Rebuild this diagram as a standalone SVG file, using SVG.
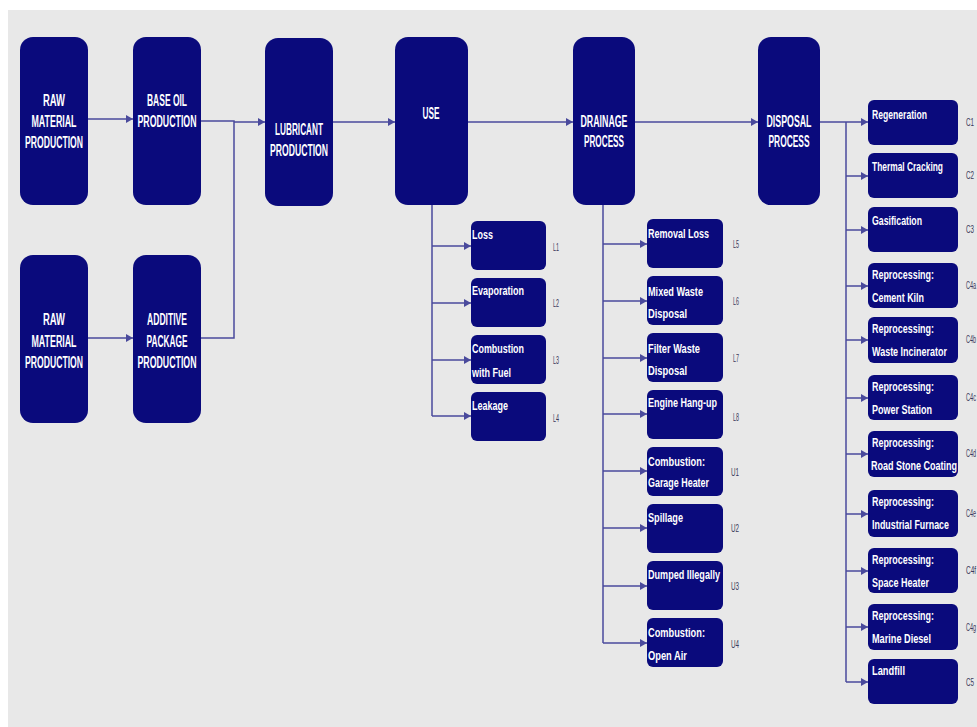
<svg xmlns="http://www.w3.org/2000/svg" width="977" height="727" viewBox="0 0 977 727">
<style>
.big{fill:#0a0a7c;}
.sm{fill:#0a0a7c;}
.t{font-family:"Liberation Sans Narrow","Liberation Sans","DejaVu Sans Condensed",sans-serif;fill:#ffffff;}
.tb{font-size:16px;font-weight:bold;text-anchor:middle;}
.ts{font-size:13.5px;font-weight:bold;}
.lab{font-family:"Liberation Sans Narrow","Liberation Sans",sans-serif;font-size:11px;fill:#3a3a5a;}
.ln{fill:none;stroke:#4a4a9c;stroke-width:1.5;}
</style>
<defs>
<marker id="ar" markerUnits="userSpaceOnUse" markerWidth="8" markerHeight="10" refX="7" refY="5" orient="auto">
<path d="M0,1 L7,5 L0,9 Z" fill="#4a4a9c"/>
</marker>
</defs>
<rect x="0" y="0" width="977" height="727" fill="#ffffff"/>
<rect x="8" y="10" width="969" height="717" fill="#e8e8e8"/>

<g id="connectors">
<path class="ln" d="M88,119 H133" marker-end="url(#ar)"/>
<path class="ln" d="M88,338 H133" marker-end="url(#ar)"/>
<path class="ln" d="M201,121 H234 V338 H201"/>
<path class="ln" d="M234,122 H265" marker-end="url(#ar)"/>
<path class="ln" d="M333,122 H395" marker-end="url(#ar)"/>
<path class="ln" d="M468,122 H573" marker-end="url(#ar)"/>
<path class="ln" d="M635,122 H758" marker-end="url(#ar)"/>
<path class="ln" d="M820,122 H868" marker-end="url(#ar)"/>
<path class="ln" d="M432,205 V416"/>
<path class="ln" d="M432,246 H471" marker-end="url(#ar)"/>
<path class="ln" d="M432,303 H471" marker-end="url(#ar)"/>
<path class="ln" d="M432,360 H471" marker-end="url(#ar)"/>
<path class="ln" d="M432,416 H471" marker-end="url(#ar)"/>
<path class="ln" d="M603,205 V643"/>
<path class="ln" d="M603,244 H647" marker-end="url(#ar)"/>
<path class="ln" d="M603,301 H647" marker-end="url(#ar)"/>
<path class="ln" d="M603,358 H647" marker-end="url(#ar)"/>
<path class="ln" d="M603,414 H647" marker-end="url(#ar)"/>
<path class="ln" d="M603,471 H647" marker-end="url(#ar)"/>
<path class="ln" d="M603,528 H647" marker-end="url(#ar)"/>
<path class="ln" d="M603,586 H647" marker-end="url(#ar)"/>
<path class="ln" d="M603,643 H647" marker-end="url(#ar)"/>
<path class="ln" d="M846,122 V682"/>
<path class="ln" d="M846,176 H868" marker-end="url(#ar)"/>
<path class="ln" d="M846,230 H868" marker-end="url(#ar)"/>
<path class="ln" d="M846,286 H868" marker-end="url(#ar)"/>
<path class="ln" d="M846,340 H868" marker-end="url(#ar)"/>
<path class="ln" d="M846,398 H868" marker-end="url(#ar)"/>
<path class="ln" d="M846,454 H868" marker-end="url(#ar)"/>
<path class="ln" d="M846,514 H868" marker-end="url(#ar)"/>
<path class="ln" d="M846,571 H868" marker-end="url(#ar)"/>
<path class="ln" d="M846,627 H868" marker-end="url(#ar)"/>
<path class="ln" d="M846,682 H868" marker-end="url(#ar)"/>
</g>

<g id="raw1"><rect class="big" x="20" y="37" width="68" height="168" rx="13"/>
<text class="t tb" x="54" y="106" textLength="22" lengthAdjust="spacingAndGlyphs">RAW</text>
<text class="t tb" x="54" y="127" textLength="45" lengthAdjust="spacingAndGlyphs">MATERIAL</text>
<text class="t tb" x="54" y="148" textLength="58" lengthAdjust="spacingAndGlyphs">PRODUCTION</text></g>

<g id="baseoil"><rect class="big" x="133" y="37" width="68" height="168" rx="13"/>
<text class="t tb" x="167" y="106" textLength="40" lengthAdjust="spacingAndGlyphs">BASE OIL</text>
<text class="t tb" x="167" y="127" textLength="59" lengthAdjust="spacingAndGlyphs">PRODUCTION</text></g>

<g id="lubricant"><rect class="big" x="265" y="38" width="68" height="168" rx="13"/>
<text class="t tb" x="299" y="135" textLength="48" lengthAdjust="spacingAndGlyphs">LUBRICANT</text>
<text class="t tb" x="299" y="156" textLength="58" lengthAdjust="spacingAndGlyphs">PRODUCTION</text></g>

<g id="raw2"><rect class="big" x="20" y="255" width="68" height="168" rx="13"/>
<text class="t tb" x="54" y="325" textLength="22" lengthAdjust="spacingAndGlyphs">RAW</text>
<text class="t tb" x="54" y="347" textLength="45" lengthAdjust="spacingAndGlyphs">MATERIAL</text>
<text class="t tb" x="54" y="368" textLength="58" lengthAdjust="spacingAndGlyphs">PRODUCTION</text></g>

<g id="additive"><rect class="big" x="133" y="255" width="68" height="168" rx="13"/>
<text class="t tb" x="167" y="325" textLength="40" lengthAdjust="spacingAndGlyphs">ADDITIVE</text>
<text class="t tb" x="167" y="347" textLength="41" lengthAdjust="spacingAndGlyphs">PACKAGE</text>
<text class="t tb" x="167" y="368" textLength="59" lengthAdjust="spacingAndGlyphs">PRODUCTION</text></g>

<g id="use"><rect class="big" x="395" y="37" width="73" height="168" rx="13"/>
<text class="t tb" x="431" y="119" textLength="17" lengthAdjust="spacingAndGlyphs">USE</text></g>

<g id="drainage"><rect class="big" x="573" y="37" width="62" height="168" rx="13"/>
<text class="t tb" x="604" y="127" textLength="47" lengthAdjust="spacingAndGlyphs">DRAINAGE</text>
<text class="t tb" x="604" y="147" textLength="40" lengthAdjust="spacingAndGlyphs">PROCESS</text></g>

<g id="disposal"><rect class="big" x="758" y="37" width="62" height="168" rx="13"/>
<text class="t tb" x="789" y="127" textLength="45" lengthAdjust="spacingAndGlyphs">DISPOSAL</text>
<text class="t tb" x="789" y="147" textLength="41" lengthAdjust="spacingAndGlyphs">PROCESS</text></g>

<g id="loss"><rect class="sm" x="471" y="221" width="75" height="49" rx="6"/>
<text class="t ts" x="472" y="239" textLength="21" lengthAdjust="spacingAndGlyphs">Loss</text>
<text class="lab" x="553" y="251" textLength="6" lengthAdjust="spacingAndGlyphs">L1</text></g>
<g id="evaporation"><rect class="sm" x="471" y="278" width="75" height="49" rx="6"/>
<text class="t ts" x="472" y="295" textLength="52" lengthAdjust="spacingAndGlyphs">Evaporation</text>
<text class="lab" x="553" y="307" textLength="6" lengthAdjust="spacingAndGlyphs">L2</text></g>
<g id="combfuel"><rect class="sm" x="471" y="335" width="75" height="49" rx="6"/>
<text class="t ts" x="472" y="353" textLength="52" lengthAdjust="spacingAndGlyphs">Combustion</text>
<text class="t ts" x="472" y="377" textLength="39" lengthAdjust="spacingAndGlyphs">with Fuel</text>
<text class="lab" x="553" y="364" textLength="6" lengthAdjust="spacingAndGlyphs">L3</text></g>
<g id="leakage"><rect class="sm" x="471" y="392" width="75" height="49" rx="6"/>
<text class="t ts" x="472" y="410" textLength="36" lengthAdjust="spacingAndGlyphs">Leakage</text>
<text class="lab" x="553" y="422" textLength="6" lengthAdjust="spacingAndGlyphs">L4</text></g>

<g id="removal"><rect class="sm" x="647" y="219" width="76" height="49" rx="6"/>
<text class="t ts" x="648" y="238" textLength="61" lengthAdjust="spacingAndGlyphs">Removal Loss</text>
<text class="lab" x="733" y="248" textLength="6" lengthAdjust="spacingAndGlyphs">L5</text></g>
<g id="mixedwaste"><rect class="sm" x="647" y="276" width="76" height="49" rx="6"/>
<text class="t ts" x="648" y="296" textLength="55" lengthAdjust="spacingAndGlyphs">Mixed Waste</text>
<text class="t ts" x="648" y="318" textLength="39" lengthAdjust="spacingAndGlyphs">Disposal</text>
<text class="lab" x="733" y="305" textLength="6" lengthAdjust="spacingAndGlyphs">L6</text></g>
<g id="filterwaste"><rect class="sm" x="647" y="333" width="76" height="49" rx="6"/>
<text class="t ts" x="648" y="353" textLength="52" lengthAdjust="spacingAndGlyphs">Filter Waste</text>
<text class="t ts" x="648" y="375" textLength="39" lengthAdjust="spacingAndGlyphs">Disposal</text>
<text class="lab" x="733" y="362" textLength="6" lengthAdjust="spacingAndGlyphs">L7</text></g>
<g id="hangup"><rect class="sm" x="647" y="390" width="76" height="49" rx="6"/>
<text class="t ts" x="648" y="407" textLength="69" lengthAdjust="spacingAndGlyphs">Engine Hang-up</text>
<text class="lab" x="733" y="421" textLength="6" lengthAdjust="spacingAndGlyphs">L8</text></g>
<g id="garage"><rect class="sm" x="647" y="447" width="76" height="49" rx="6"/>
<text class="t ts" x="648" y="466" textLength="57" lengthAdjust="spacingAndGlyphs">Combustion:</text>
<text class="t ts" x="648" y="487" textLength="61" lengthAdjust="spacingAndGlyphs">Garage Heater</text>
<text class="lab" x="731" y="476" textLength="8" lengthAdjust="spacingAndGlyphs">U1</text></g>
<g id="spillage"><rect class="sm" x="647" y="504" width="76" height="49" rx="6"/>
<text class="t ts" x="648" y="522" textLength="35" lengthAdjust="spacingAndGlyphs">Spillage</text>
<text class="lab" x="731" y="532" textLength="8" lengthAdjust="spacingAndGlyphs">U2</text></g>
<g id="dumped"><rect class="sm" x="647" y="561" width="76" height="49" rx="6"/>
<text class="t ts" x="648" y="579" textLength="72" lengthAdjust="spacingAndGlyphs">Dumped Illegally</text>
<text class="lab" x="731" y="590" textLength="8" lengthAdjust="spacingAndGlyphs">U3</text></g>
<g id="openair"><rect class="sm" x="647" y="618" width="76" height="49" rx="6"/>
<text class="t ts" x="648" y="637" textLength="57" lengthAdjust="spacingAndGlyphs">Combustion:</text>
<text class="t ts" x="648" y="660" textLength="39" lengthAdjust="spacingAndGlyphs">Open Air</text>
<text class="lab" x="731" y="648" textLength="8" lengthAdjust="spacingAndGlyphs">U4</text></g>

<g id="regeneration"><rect class="sm" x="868" y="100" width="90" height="45" rx="6"/>
<text class="t ts" x="872" y="119" textLength="55" lengthAdjust="spacingAndGlyphs">Regeneration</text>
<text class="lab" x="966" y="126" textLength="8" lengthAdjust="spacingAndGlyphs">C1</text></g>
<g id="thermal"><rect class="sm" x="868" y="153" width="90" height="45" rx="6"/>
<text class="t ts" x="872" y="171" textLength="71" lengthAdjust="spacingAndGlyphs">Thermal Cracking</text>
<text class="lab" x="966" y="179" textLength="8" lengthAdjust="spacingAndGlyphs">C2</text></g>
<g id="gasification"><rect class="sm" x="868" y="207" width="90" height="45" rx="6"/>
<text class="t ts" x="872" y="225" textLength="50" lengthAdjust="spacingAndGlyphs">Gasification</text>
<text class="lab" x="966" y="233" textLength="8" lengthAdjust="spacingAndGlyphs">C3</text></g>
<g id="cement"><rect class="sm" x="868" y="263" width="90" height="45" rx="6"/>
<text class="t ts" x="872" y="279" textLength="62" lengthAdjust="spacingAndGlyphs">Reprocessing:</text>
<text class="t ts" x="872" y="302" textLength="52" lengthAdjust="spacingAndGlyphs">Cement Kiln</text>
<text class="lab" x="966" y="289" textLength="10" lengthAdjust="spacingAndGlyphs">C4a</text></g>
<g id="incinerator"><rect class="sm" x="868" y="317" width="90" height="46" rx="6"/>
<text class="t ts" x="872" y="333" textLength="62" lengthAdjust="spacingAndGlyphs">Reprocessing:</text>
<text class="t ts" x="872" y="356" textLength="75" lengthAdjust="spacingAndGlyphs">Waste Incinerator</text>
<text class="lab" x="966" y="343" textLength="10" lengthAdjust="spacingAndGlyphs">C4b</text></g>
<g id="power"><rect class="sm" x="868" y="375" width="90" height="45" rx="6"/>
<text class="t ts" x="872" y="391" textLength="62" lengthAdjust="spacingAndGlyphs">Reprocessing:</text>
<text class="t ts" x="872" y="414" textLength="60" lengthAdjust="spacingAndGlyphs">Power Station</text>
<text class="lab" x="966" y="401" textLength="10" lengthAdjust="spacingAndGlyphs">C4c</text></g>
<g id="roadstone"><rect class="sm" x="868" y="431" width="90" height="46" rx="6"/>
<text class="t ts" x="872" y="447" textLength="62" lengthAdjust="spacingAndGlyphs">Reprocessing:</text>
<text class="t ts" x="871" y="470" textLength="86" lengthAdjust="spacingAndGlyphs">Road Stone Coating</text>
<text class="lab" x="966" y="457" textLength="10" lengthAdjust="spacingAndGlyphs">C4d</text></g>
<g id="furnace"><rect class="sm" x="868" y="490" width="90" height="47" rx="6"/>
<text class="t ts" x="872" y="506" textLength="62" lengthAdjust="spacingAndGlyphs">Reprocessing:</text>
<text class="t ts" x="872" y="529" textLength="77" lengthAdjust="spacingAndGlyphs">Industrial Furnace</text>
<text class="lab" x="966" y="517" textLength="10" lengthAdjust="spacingAndGlyphs">C4e</text></g>
<g id="spaceheater"><rect class="sm" x="868" y="548" width="90" height="45" rx="6"/>
<text class="t ts" x="872" y="564" textLength="62" lengthAdjust="spacingAndGlyphs">Reprocessing:</text>
<text class="t ts" x="872" y="587" textLength="57" lengthAdjust="spacingAndGlyphs">Space Heater</text>
<text class="lab" x="966" y="574" textLength="10" lengthAdjust="spacingAndGlyphs">C4f</text></g>
<g id="marine"><rect class="sm" x="868" y="604" width="90" height="46" rx="6"/>
<text class="t ts" x="872" y="620" textLength="62" lengthAdjust="spacingAndGlyphs">Reprocessing:</text>
<text class="t ts" x="872" y="643" textLength="59" lengthAdjust="spacingAndGlyphs">Marine Diesel</text>
<text class="lab" x="966" y="631" textLength="10" lengthAdjust="spacingAndGlyphs">C4g</text></g>
<g id="landfill"><rect class="sm" x="868" y="659" width="90" height="45" rx="6"/>
<text class="t ts" x="872" y="675" textLength="33" lengthAdjust="spacingAndGlyphs">Landfill</text>
<text class="lab" x="966" y="686" textLength="8" lengthAdjust="spacingAndGlyphs">C5</text></g>
</svg>
